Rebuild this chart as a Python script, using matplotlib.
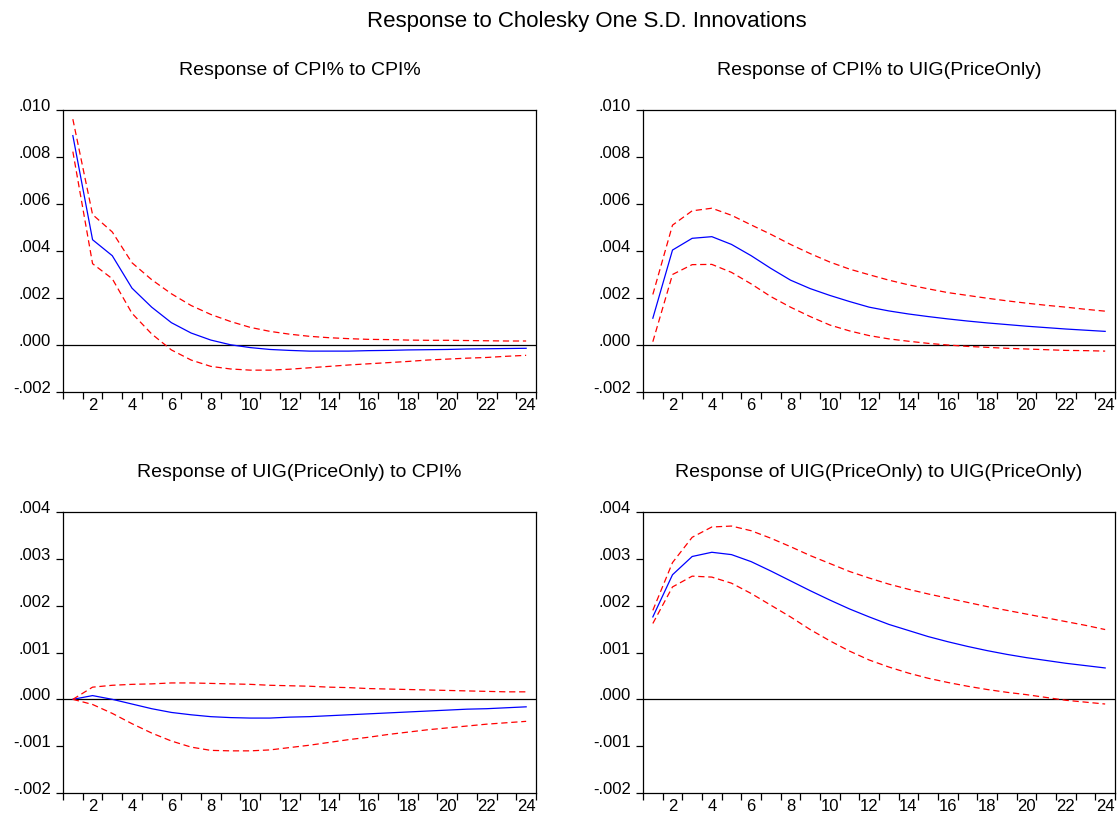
import matplotlib
matplotlib.use("Agg")
import matplotlib.pyplot as plt
import matplotlib.transforms as mtransforms
from matplotlib.ticker import FixedLocator, FuncFormatter, NullFormatter

plt.rcParams['font.family'] = ['Liberation Sans', 'DejaVu Sans']

periods = list(range(1, 25))

# Response of CPI% to CPI%
cpi_cpi = [0.00891, 0.00448, 0.00380, 0.00242, 0.00161, 0.00095, 0.00051, 0.00021,
           0.00001, -0.00011, -0.00019, -0.00023, -0.00026, -0.00026, -0.00026, -0.00024,
           -0.00023, -0.00021, -0.00020, -0.00019, -0.00017, -0.00016, -0.00015, -0.00014]
cpi_cpi_hi = [0.00961, 0.00555, 0.00481, 0.00350, 0.00278, 0.00218, 0.00168, 0.00130,
              0.00100, 0.00075, 0.00058, 0.00046, 0.00037, 0.00031, 0.00027, 0.00024,
              0.00023, 0.00021, 0.00020, 0.00020, 0.00019, 0.00018, 0.00017, 0.00017]
cpi_cpi_lo = [0.00823, 0.00346, 0.00282, 0.00135, 0.00047, -0.00021, -0.00064, -0.00091,
              -0.00102, -0.00107, -0.00107, -0.00103, -0.00097, -0.00091, -0.00085, -0.00080,
              -0.00075, -0.00070, -0.00064, -0.00060, -0.00056, -0.00053, -0.00048, -0.00044]

# Response of CPI% to UIG(PriceOnly)
cpi_uig = [0.00114, 0.00404, 0.00454, 0.00461, 0.00428, 0.00380, 0.00326, 0.00276,
           0.00240, 0.00211, 0.00185, 0.00161, 0.00145, 0.00132, 0.00121, 0.00111,
           0.00102, 0.00094, 0.00087, 0.00080, 0.00074, 0.00068, 0.00063, 0.00058]
cpi_uig_hi = [0.00215, 0.00510, 0.00571, 0.00582, 0.00552, 0.00511, 0.00471, 0.00428,
              0.00389, 0.00353, 0.00323, 0.00299, 0.00276, 0.00256, 0.00239, 0.00223,
              0.00211, 0.00199, 0.00188, 0.00178, 0.00169, 0.00161, 0.00152, 0.00144]
cpi_uig_lo = [0.00014, 0.00300, 0.00342, 0.00343, 0.00309, 0.00260, 0.00206, 0.00161,
              0.00121, 0.00085, 0.00060, 0.00040, 0.00026, 0.00016, 0.00007, 0.00000,
              -0.00006, -0.00010, -0.00014, -0.00017, -0.00020, -0.00023, -0.00024, -0.00026]

# Response of UIG(PriceOnly) to CPI%
uig_cpi = [0.00000, 0.00008, 0.00000, -0.00010, -0.00020, -0.00028, -0.00033, -0.00037,
           -0.00039, -0.00040, -0.00040, -0.00038, -0.00037, -0.00035, -0.00033, -0.00031,
           -0.00029, -0.00027, -0.00025, -0.00023, -0.00021, -0.00020, -0.00018, -0.00016]
uig_cpi_hi = [0.00000, 0.00026, 0.00030, 0.00032, 0.00033, 0.00035, 0.00035, 0.00034,
              0.00033, 0.00032, 0.00030, 0.00029, 0.00028, 0.00026, 0.00025, 0.00023,
              0.00022, 0.00021, 0.00020, 0.00019, 0.00018, 0.00017, 0.00016, 0.00016]
uig_cpi_lo = [0.00000, -0.00011, -0.00030, -0.00052, -0.00072, -0.00089, -0.00102, -0.00109,
              -0.00110, -0.00110, -0.00108, -0.00103, -0.00098, -0.00092, -0.00086, -0.00081,
              -0.00075, -0.00070, -0.00065, -0.00061, -0.00057, -0.00053, -0.00050, -0.00047]

# Response of UIG(PriceOnly) to UIG(PriceOnly)
uig_uig = [0.00176, 0.00266, 0.00305, 0.00314, 0.00309, 0.00294, 0.00274, 0.00253,
           0.00232, 0.00212, 0.00193, 0.00176, 0.00160, 0.00147, 0.00134, 0.00123,
           0.00113, 0.00104, 0.00096, 0.00089, 0.00083, 0.00077, 0.00072, 0.00067]
uig_uig_hi = [0.00190, 0.00292, 0.00346, 0.00368, 0.00370, 0.00360, 0.00344, 0.00326,
              0.00307, 0.00290, 0.00273, 0.00259, 0.00246, 0.00235, 0.00225, 0.00216,
              0.00207, 0.00198, 0.00190, 0.00182, 0.00174, 0.00166, 0.00158, 0.00149]
uig_uig_lo = [0.00162, 0.00240, 0.00263, 0.00261, 0.00248, 0.00226, 0.00201, 0.00176,
              0.00149, 0.00125, 0.00103, 0.00084, 0.00069, 0.00056, 0.00045, 0.00036,
              0.00028, 0.00021, 0.00015, 0.00010, 0.00004, -0.00002, -0.00006, -0.00010]

titles = ["Response of CPI% to CPI%", "Response of CPI% to UIG(PriceOnly)",
          "Response of UIG(PriceOnly) to CPI%", "Response of UIG(PriceOnly) to UIG(PriceOnly)"]
series = [(cpi_cpi, cpi_cpi_lo, cpi_cpi_hi), (cpi_uig, cpi_uig_lo, cpi_uig_hi),
          (uig_cpi, uig_cpi_lo, uig_cpi_hi), (uig_uig, uig_uig_lo, uig_uig_hi)]
ylims = [(-0.002, 0.010), (-0.002, 0.010), (-0.002, 0.004), (-0.002, 0.004)]
ysteps = [0.002, 0.002, 0.001, 0.001]

W, H = 1118, 816
fig = plt.figure(figsize=(W / 100, H / 100), dpi=100)

# axes boxes in pixels: left, top, right, bottom
boxes = [(63, 110, 536, 392), (643, 110, 1115, 392),
         (63, 512, 536, 793), (643, 512, 1115, 793)]


def fmt(v, pos):
    s = "%.3f" % v
    if s.startswith("0."):
        s = s[1:]
    elif s.startswith("-0."):
        s = "-" + s[2:]
    return s


for i in range(4):
    l, t, r, b = boxes[i]
    ax = fig.add_axes([l / W, 1 - b / H, (r - l) / W, (b - t) / H])
    mid, lo, hi = series[i]
    ax.axhline(0, color="black", lw=0.9)
    ax.plot(periods, mid, color="#0000ff", lw=0.9)
    ax.plot(periods, hi, color="#ff0000", lw=0.9, ls=(0, (5, 3)))
    ax.plot(periods, lo, color="#ff0000", lw=0.9, ls=(0, (5, 3)))

    ax.set_xlim(0.5, 24.5)
    y0, y1 = ylims[i]
    ax.set_ylim(y0, y1)
    step = ysteps[i]
    n = int(round((y1 - y0) / step))
    ax.yaxis.set_major_locator(FixedLocator([y0 + k * step for k in range(n + 1)]))
    ax.yaxis.set_major_formatter(FuncFormatter(fmt))

    # x: tick marks between periods, labels on even periods
    ax.xaxis.set_major_locator(FixedLocator(list(range(2, 25, 2))))
    ax.xaxis.set_minor_locator(FixedLocator([k + 0.5 for k in range(0, 25)]))
    ax.xaxis.set_minor_formatter(NullFormatter())
    ax.tick_params(axis="x", which="major", length=0, pad=4.5, labelsize=12)
    ax.tick_params(axis="x", which="minor", length=5, width=0.9, direction="out")
    ax.tick_params(axis="y", which="major", length=5, width=0.9, direction="out",
                   pad=3.5, labelsize=12)

    offset = mtransforms.ScaledTranslation(0, 5 / 100, fig.dpi_scale_trans)
    for lab in ax.get_yticklabels():
        lab.set_transform(lab.get_transform() + offset)

    for sp in ax.spines.values():
        sp.set_linewidth(0.9)

    ax.set_title(titles[i], fontsize=14, pad=25)

fig.suptitle("Response to Cholesky One S.D. Innovations", fontsize=16, x=587 / W, y=1 - 22 / H,
             va="center")

fig.savefig("out.png", dpi=100)
